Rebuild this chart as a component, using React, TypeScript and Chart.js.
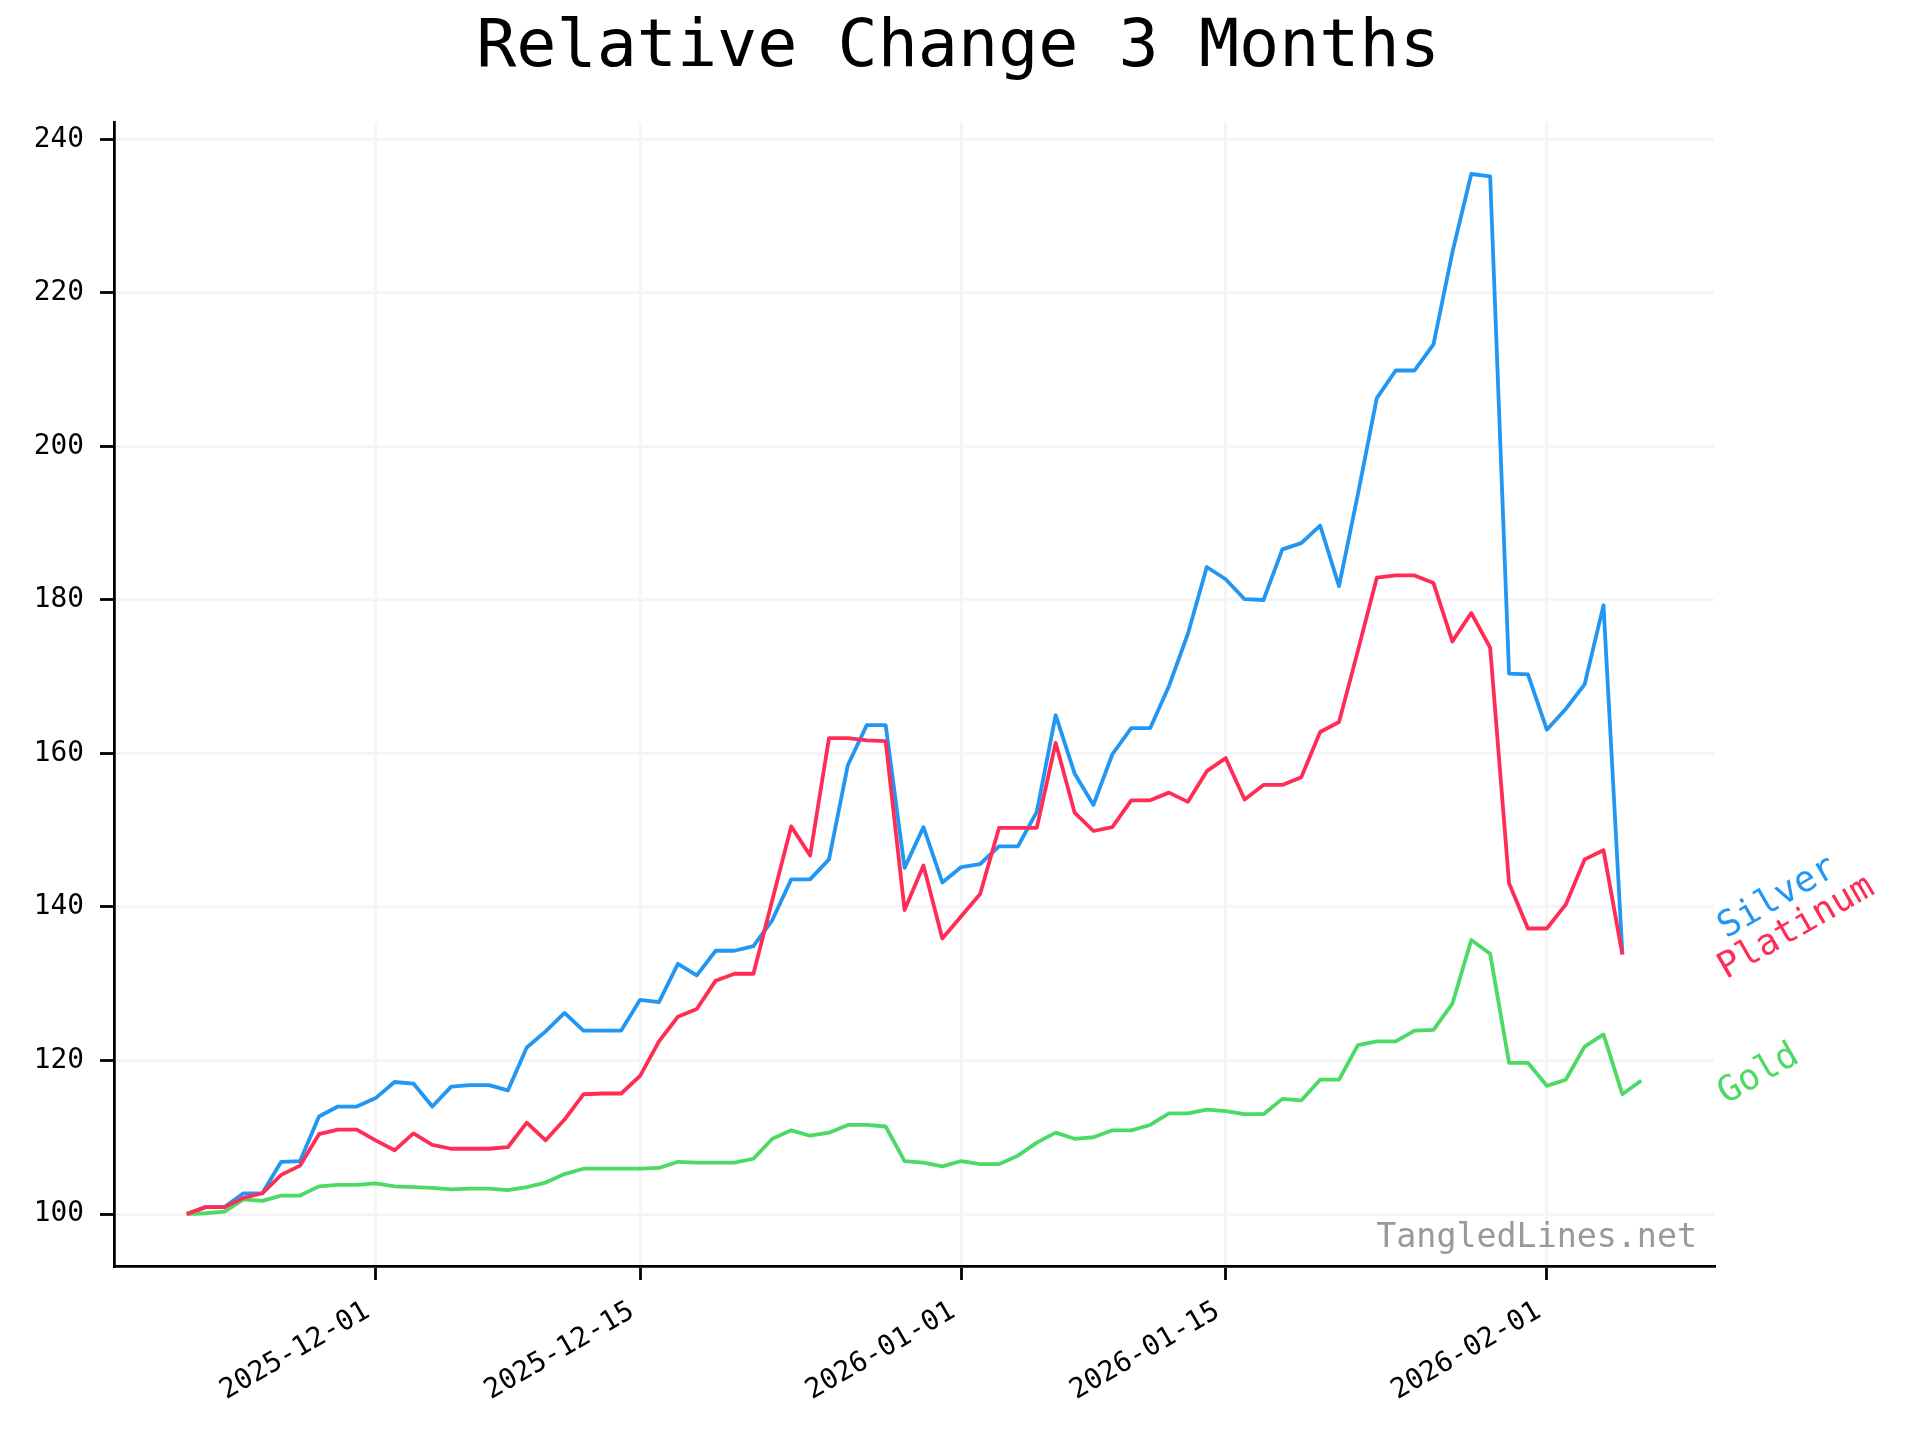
import React, { useEffect, useRef } from "react";
import { Chart, registerables } from "chart.js";

Chart.register(...registerables);

const title = "Relative Change 3 Months";
const watermark = "TangledLines.net";

const dates = [
  "2025-11-21", "2025-11-22", "2025-11-23", "2025-11-24", "2025-11-25", "2025-11-26", "2025-11-27",
  "2025-11-28", "2025-11-29", "2025-11-30", "2025-12-01", "2025-12-02", "2025-12-03", "2025-12-04",
  "2025-12-05", "2025-12-06", "2025-12-07", "2025-12-08", "2025-12-09", "2025-12-10", "2025-12-11",
  "2025-12-12", "2025-12-13", "2025-12-14", "2025-12-15", "2025-12-16", "2025-12-17", "2025-12-18",
  "2025-12-19", "2025-12-20", "2025-12-21", "2025-12-22", "2025-12-23", "2025-12-24", "2025-12-25",
  "2025-12-26", "2025-12-27", "2025-12-28", "2025-12-29", "2025-12-30", "2025-12-31", "2026-01-01",
  "2026-01-02", "2026-01-03", "2026-01-04", "2026-01-05", "2026-01-06", "2026-01-07", "2026-01-08",
  "2026-01-09", "2026-01-10", "2026-01-11", "2026-01-12", "2026-01-13", "2026-01-14", "2026-01-15",
  "2026-01-16", "2026-01-17", "2026-01-18", "2026-01-19", "2026-01-20", "2026-01-21", "2026-01-22",
  "2026-01-23", "2026-01-24", "2026-01-25", "2026-01-26", "2026-01-27", "2026-01-28", "2026-01-29",
  "2026-01-30", "2026-01-31", "2026-02-01", "2026-02-02", "2026-02-03", "2026-02-04", "2026-02-05",
  "2026-02-06",
];

const silver = [
  100, 100.9, 100.9, 102.7, 102.7, 106.8, 106.9, 112.7, 114.0, 114.0,
  115.1, 117.2, 117.0, 114.0, 116.6, 116.8, 116.8, 116.1, 121.7, 123.8,
  126.2, 123.9, 123.9, 123.9, 127.9, 127.6, 132.6, 131.1, 134.3, 134.3,
  134.9, 138.3, 143.6, 143.6, 146.2, 158.5, 163.7, 163.7, 145.1, 150.4,
  143.2, 145.2, 145.6, 147.9, 147.9, 152.4, 165.0, 157.4, 153.3, 159.9,
  163.3, 163.3, 168.8, 175.6, 184.3, 182.7, 180.1, 180.0, 186.6, 187.4,
  189.7, 181.8, 193.8, 206.3, 209.9, 209.9, 213.3, 225.3, 235.5, 235.2,
  170.4, 170.3, 163.1, 165.8, 169.0, 179.3, 133.9,
];

const platinum = [
  100, 100.9, 100.9, 102.1, 102.7, 105.1, 106.3, 110.4, 111.0, 111.0,
  109.6, 108.3, 110.5, 109.0, 108.5, 108.5, 108.5, 108.7, 111.9, 109.6,
  112.3, 115.6, 115.7, 115.7, 118.0, 122.5, 125.7, 126.7, 130.4, 131.3,
  131.3, 140.9, 150.5, 146.7, 162.0, 162.0, 161.7, 161.6, 139.6, 145.4,
  135.9, 138.8, 141.7, 150.3, 150.3, 150.3, 161.4, 152.3, 149.9, 150.4,
  153.9, 153.9, 154.9, 153.7, 157.7, 159.4, 154.0, 155.9, 155.9, 156.9,
  162.8, 164.1, 173.4, 182.9, 183.2, 183.2, 182.2, 174.6, 178.3, 173.8,
  143.1, 137.2, 137.2, 140.3, 146.2, 147.4, 133.8,
];

const gold = [
  100, 100.1, 100.3, 101.9, 101.7, 102.4, 102.4, 103.6, 103.8, 103.8,
  104.0, 103.6, 103.5, 103.4, 103.2, 103.3, 103.3, 103.1, 103.5, 104.1,
  105.2, 105.9, 105.9, 105.9, 105.9, 106.0, 106.8, 106.7, 106.7, 106.7,
  107.2, 109.8, 110.9, 110.2, 110.6, 111.6, 111.6, 111.4, 106.9, 106.7,
  106.2, 106.9, 106.5, 106.5, 107.6, 109.3, 110.6, 109.8, 110.0, 110.9,
  110.9, 111.6, 113.1, 113.1, 113.6, 113.4, 113.0, 113.0, 115.0, 114.8,
  117.5, 117.5, 122.0, 122.5, 122.5, 123.9, 124.0, 127.4, 135.7, 133.9,
  119.7, 119.7, 116.7, 117.5, 121.8, 123.4, 115.6, 117.4,
];

const seriesNames = ["Silver", "Platinum", "Gold"];
const seriesValues = [silver, platinum, gold];
const seriesColors = ["#2196f3", "#ff2d55", "#4cd964"];
const seriesOrder = [2, 0, 1];
const labelOffsets = [-15, 25, 24];

const tickDates = ["2025-12-01", "2025-12-15", "2026-01-01", "2026-01-15", "2026-02-01"];
const yTickValues = [100, 120, 140, 160, 180, 200, 220, 240];

const FONT = "'DejaVu Sans Mono', 'Liberation Mono', monospace";
const DAY = 86400000;
const t0 = Date.parse(dates[0]);
const dayOf = (d: string) => (Date.parse(d) - t0) / DAY;

export default function App() {
  const ref = useRef<HTMLCanvasElement | null>(null);

  useEffect(() => {
    document.body.style.margin = "0";
    const canvas = ref.current;
    if (!canvas) return;

    const allX = dates.map(dayOf);
    const xMinD = Math.min(...allX);
    const xMaxD = Math.max(...allX);
    const xm = (xMaxD - xMinD) * 0.05;
    const allY = ([] as number[]).concat(...seriesValues);
    const yMinD = Math.min(...allY);
    const yMaxD = Math.max(...allY);
    const ym = (yMaxD - yMinD) * 0.05;

    const datasets = seriesNames.map((name, k) => ({
      label: name,
      data: seriesValues[k].map((v, i) => ({ x: dayOf(dates[i]), y: v })),
      borderColor: seriesColors[k],
      backgroundColor: seriesColors[k],
      borderWidth: 3.8,
      pointRadius: 0,
      tension: 0,
      fill: false,
      order: seriesOrder[k],
      borderJoinStyle: "round" as const,
      borderCapStyle: "butt" as const,
    }));

    const decor = {
      id: "decor",
      afterDraw(chart: any) {
        const ctx = chart.ctx;
        const area = chart.chartArea;
        const ys = chart.scales.y;
        ctx.save();
        // title
        ctx.fillStyle = "#000";
        ctx.font = `66.7px ${FONT}`;
        ctx.textAlign = "center";
        ctx.textBaseline = "alphabetic";
        ctx.fillText(title, 958, 66);
        // watermark
        ctx.fillStyle = "#999999";
        ctx.font = `33.3px ${FONT}`;
        ctx.textAlign = "right";
        ctx.fillText(watermark, 1697, 1247);
        // series labels
        seriesNames.forEach((name, k) => {
          const vals = seriesValues[k];
          const last = vals[vals.length - 1];
          const px = area.right + 12;
          const py = ys.getPixelForValue(last) + labelOffsets[k];
          ctx.save();
          ctx.translate(px, py);
          ctx.rotate(-Math.PI / 6);
          ctx.fillStyle = seriesColors[k];
          ctx.font = `36px ${FONT}`;
          ctx.textAlign = "left";
          ctx.textBaseline = "alphabetic";
          ctx.fillText(name, 0, 0);
          ctx.restore();
        });
        ctx.restore();
      },
    };

    const chart = new Chart(canvas, {
      type: "line",
      data: { datasets },
      plugins: [decor],
      options: {
        responsive: false,
        animation: false,
        devicePixelRatio: 1,
        layout: { padding: { left: 0, right: 206, top: 122, bottom: 0 } },
        plugins: {
          legend: { display: false },
          tooltip: { enabled: false },
          title: { display: false },
        },
        scales: {
          x: {
            type: "linear",
            min: xMinD - xm,
            max: xMaxD + xm,
            afterFit: (s: any) => {
              s.height = 174;
            },
            afterBuildTicks: (s: any) => {
              s.ticks = tickDates.map((d) => ({ value: dayOf(d) }));
            },
            grid: {
              color: "#f5f5f5",
              lineWidth: 3,
              drawTicks: true,
              tickLength: 14,
              tickColor: "#000",
              tickWidth: 2.8,
            },
            border: { display: true, color: "#000", width: 2.8 },
            ticks: {
              autoSkip: false,
              maxRotation: 30,
              minRotation: 30,
              padding: 15,
              labelOffset: -8,
              color: "#000",
              font: { family: FONT, size: 27.8 },
              callback: (v: any) => {
                const idx = tickDates.findIndex((d) => Math.abs(dayOf(d) - Number(v)) < 1e-6);
                return idx >= 0 ? tickDates[idx] : "";
              },
            },
          },
          y: {
            type: "linear",
            min: yMinD - ym,
            max: yMaxD + ym,
            afterFit: (s: any) => {
              s.width = 114;
            },
            afterBuildTicks: (s: any) => {
              s.ticks = yTickValues.map((v) => ({ value: v }));
            },
            grid: {
              color: "#f5f5f5",
              lineWidth: 3,
              drawTicks: true,
              tickLength: 14,
              tickColor: "#000",
              tickWidth: 2.8,
            },
            border: { display: true, color: "#000", width: 2.8 },
            ticks: {
              padding: 16,
              color: "#000",
              font: { family: FONT, size: 27.8 },
              callback: (v: any) => String(v),
            },
          },
        },
      },
    } as any);

    return () => chart.destroy();
  }, []);

  return (
    <div style={{ width: 1920, height: 1440, background: "#fff" }}>
      <canvas ref={ref} width={1920} height={1440} style={{ display: "block", width: 1920, height: 1440 }} />
    </div>
  );
}
